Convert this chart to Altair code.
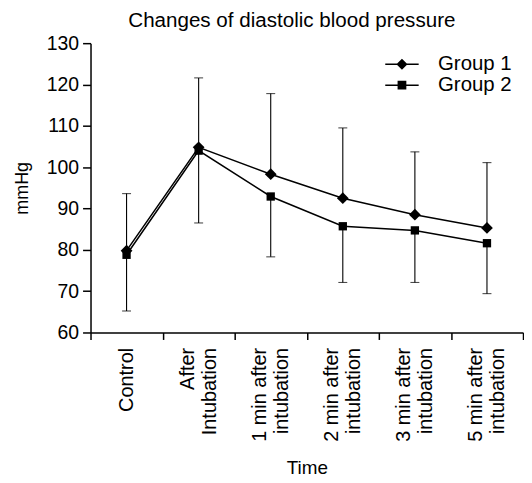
import altair as alt
import pandas as pd

categories = ["Control", "After|Intubation", "1 min after|intubation",
              "2 min after|intubation", "3 min after|intubation", "5 min after|intubation"]
groups = ["Group 1", "Group 2"]
g1_mean = [79.8, 104.8, 98.3, 92.5, 88.5, 85.3]
g2_mean = [78.8, 104.0, 92.9, 85.7, 84.7, 81.6]
g1_upper = [93.6, 121.6, 117.8, 109.5, 103.7, 101.1]
g2_lower = [65.2, 86.5, 78.3, 72.1, 72.1, 69.4]
y_ticks = [60, 70, 80, 90, 100, 110, 120, 130]

rows = []
for i, c in enumerate(categories):
    rows.append({"time": c, "group": groups[0], "mean": g1_mean[i], "bound": g1_upper[i]})
    rows.append({"time": c, "group": groups[1], "mean": g2_mean[i], "bound": g2_lower[i]})
df = pd.DataFrame(rows)

FONT = "Liberation Sans"

x_enc = alt.X(
    "time:N", sort=categories, bandPosition=0.5,
    scale=alt.Scale(type="band", domain=categories, paddingInner=0, paddingOuter=0),
    axis=alt.Axis(title="Time",
                  labelExpr="isValid(datum.value) ? split(datum.value, '|') : ''",
                  labelAngle=-90, labelAlign="right",
                  labelBaseline={"condition": {"test": "isValid(datum.value) && indexof(datum.value, '|') >= 0",
                                               "value": "line-bottom"},
                                 "value": "middle"},
                  labelFontSize=20, labelLineHeight=22, tickBand="extent", tickSize=7,
                  labelPadding=8, titleFontSize=19, titlePadding=17,
                  titleFontWeight="normal"),
)
y_scale = alt.Scale(domain=[60, 130], nice=False, zero=False)
y_axis = alt.Axis(values=y_ticks, title="mmHg", tickSize=8, labelFontSize=19.5,
                  labelPadding=4, titleFontSize=18, titlePadding=15,
                  titleFontWeight="normal")

base = alt.Chart(df)

lines = base.mark_line(color="black", strokeWidth=1.5).encode(
    x=x_enc, y=alt.Y("mean:Q", scale=y_scale, axis=y_axis), detail="group:N"
)
err = base.mark_rule(color="black", strokeWidth=1.1).encode(
    x=x_enc, y="mean:Q", y2="bound:Q"
)
caps = base.mark_tick(color="black", thickness=1.1, size=9).encode(
    x=x_enc, y="bound:Q"
)
pts1 = base.transform_filter(alt.datum.group == groups[0]).mark_point(
    shape="diamond", filled=True, color="black", size=140, opacity=1
).encode(x=x_enc, y="mean:Q")
pts2 = base.transform_filter(alt.datum.group == groups[1]).mark_point(
    shape="square", filled=True, color="black", size=70, opacity=1
).encode(x=x_enc, y="mean:Q")

legend_paths = [
    "M-2.1,-0.09H2.1V0.09H-2.1ZM0,-0.7L0.7,0L0,0.7L-0.7,0Z",
    "M-2.1,-0.09H2.1V0.09H-2.1ZM-0.55,-0.55H0.55V0.55H-0.55Z",
]
legend_layer = base.transform_filter("datum.mean < 0").mark_point(
    filled=True, color="black", size=256
).encode(
    x=x_enc, y="mean:Q",
    shape=alt.Shape("group:N", scale=alt.Scale(domain=groups, range=legend_paths),
                    legend=alt.Legend(title=None, orient="none", legendX=303, legendY=11,
                                      symbolSize=256, labelOffset=26, labelFontSize=20.5,
                                      labelFont=FONT, labelColor="black", rowPadding=-8,
                                      symbolFillColor="black", symbolStrokeWidth=0,
                                      symbolOpacity=1, padding=0)),
)

chart = alt.layer(lines, err, caps, pts1, pts2, legend_layer).properties(
    width=435, height=291,
    title=alt.TitleParams("Changes of diastolic blood pressure", fontSize=20.7,
                          fontWeight="normal", font=FONT, color="black",
                          anchor="middle", frame="group", dx=-15, offset=2),
    padding={"left": 5, "top": 0, "right": 0, "bottom": 0},
).configure_view(stroke=None).configure_axis(
    grid=False, domainColor="black", tickColor="black", labelColor="black",
    titleColor="black", labelFont=FONT, titleFont=FONT, domainWidth=1.5, tickWidth=1.5
)

chart.save("out.html", embed_options={"renderer": "svg", "actions": False})
